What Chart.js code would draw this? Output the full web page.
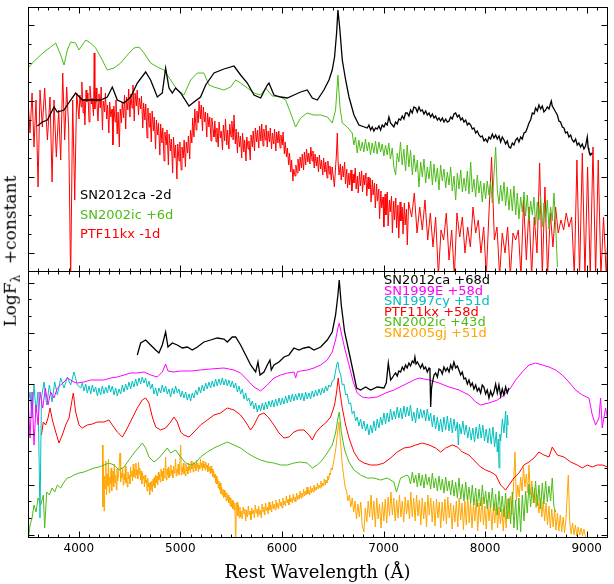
<!DOCTYPE html>
<html><head><meta charset="utf-8">
<script src="https://cdn.jsdelivr.net/npm/chart.js@4.4.0/dist/chart.umd.min.js"></script>
<style>
html,body{margin:0;padding:0;background:#fff;}
#wrap{position:relative;width:614px;height:584px;overflow:hidden;background:#fff;}
canvas{position:absolute;left:0;}
.lab{position:absolute;font-family:"DejaVu Sans",sans-serif;font-size:13px;line-height:13px;white-space:nowrap;}
#ytitle{position:absolute;font-family:"DejaVu Serif",serif;font-size:17px;line-height:20px;width:220px;text-align:center;left:-97px;top:238px;transform:rotate(-90deg);white-space:nowrap;color:#000;}
#ytitle sub{font-size:12px;}
</style></head><body>
<div id="wrap">
<canvas id="ctop" width="614" height="280" style="top:0"></canvas>
<canvas id="cbot" width="614" height="320" style="top:264px"></canvas>
<div id="ytitle">LogF<sub>λ</sub>&nbsp;&nbsp;+constant</div>
</div>
<script>
// ---------------- categories / labels ----------------
const xTicks = [4000, 5000, 6000, 7000, 8000, 9000];
const topNames = ['SN2012ca -2d', 'SN2002ic +6d', 'PTF11kx -1d'];
const botNames = ['SN2012ca +68d', 'SN1999E +58d', 'SN1997cy +51d', 'PTF11kx +58d', 'SN2002ic +43d', 'SN2005gj +51d'];

// ---------------- top panel series: [wavelength (Å), log flux + const] ----------------
const ca_m2 = [[3592,14.5],[3641,14.9],[3691,15.1],[3756,16.4],[3789,15.9],[3855,16.1],[3920,17.1],[3969,17.8],[4035,17.1],[4117,17.1],[4215,17.1],[4281,17.4],[4330,18.4],[4379,17.1],[4445,16.8],[4511,17.4],[4576,18.8],[4658,19.9],[4707,19.1],[4773,17.4],[4822,17.8],[4855,20.3],[4888,18.3],[4921,17.8],[4953,18.3],[5003,17.8],[5085,16.5],[5134,16.9],[5199,17.4],[5249,18.6],[5331,19.8],[5429,20.2],[5528,20.5],[5593,19.6],[5659,18.8],[5725,17.6],[5790,17.3],[5856,18.6],[5872,18.8],[5921,17.6],[5987,17.4],[6053,17.3],[6118,17.6],[6184,17.9],[6249,18.1],[6299,17.3],[6348,17.1],[6413,18.1],[6463,19.1],[6495,20.1],[6518,21.4],[6538,23.8],[6551,26.1],[6568,24.4],[6594,21.1],[6627,19.1],[6660,17.4],[6709,15.6],[6758,14.6],
[6840,14.3],[6856,14.6],[6873,14.1],[6889,14.4],[6905,14.0],[6922,14.3],[6938,14.2],[6955,14.5],[6971,14.1],[6987,14.6],[7004,14.4],[7020,14.8],[7036,14.6],[7053,15.4],[7069,14.8],[7086,14.6],[7102,14.4],[7118,14.9],[7135,14.7],[7151,15.2],[7168,15.1],[7184,15.5],[7201,15.2],[7217,15.8],[7233,15.8],[7250,15.5],[7266,16.1],[7283,15.8],[7299,16.4],[7317,16.3],[7332,15.9],[7349,16.4],[7365,16.0],[7382,16.1],[7398,15.7],[7415,16.0],[7431,15.6],[7448,15.8],[7464,15.4],[7481,15.7],[7497,15.3],[7513,15.5],[7530,15.1],[7546,15.3],[7562,15.0],[7579,15.3],[7595,14.9],[7612,15.2],[7628,14.9],[7645,15.0],[7661,15.4],[7677,15.2],[7694,15.7],[7710,15.8],[7727,15.4],[7743,15.6],[7760,15.1],[7776,15.3],[7792,14.9],[7809,15.1],[7825,14.6],[7841,14.8],[7858,14.6],[7874,14.2],[7890,14.3],[7907,13.8],[7923,14.0],[7940,13.6],[7956,13.4],[7972,13.5],[7989,13.0],[8005,13.2],[8022,12.9],[8038,13.4],[8054,13.2],[8071,13.7],[8087,13.3],[8104,13.6],[8120,13.2],[8137,13.5],[8153,12.9],[8169,13.4],[8186,13.1],[8202,12.7],[8218,13.0],[8235,12.4],[8251,12.3],[8268,12.8],[8284,12.6],[8301,13.1],[8317,13.3],[8333,12.9],[8350,13.4],[8366,13.2],[8383,13.8],[8399,13.9],[8415,14.3],[8432,14.8],[8448,15.1],[8465,15.8],[8481,15.7],[8497,16.3],[8514,16.0],[8530,16.6],[8547,16.2],[8563,16.5],[8579,15.9],[8596,16.1],[8612,16.4],[8629,16.2],[8645,16.8],[8652,17.0],[8661,16.5],[8678,16.2],[8694,15.9],[8711,15.6],[8727,15.0],[8743,14.9],[8760,14.4],[8776,14.3],[8792,13.8],[8809,13.9],[8825,13.4],[8842,13.6],[8858,13.1],[8874,12.9],[8891,13.2],[8907,12.6],[8923,12.8],[8940,12.4],[8956,12.7],[8973,12.2],[8989,12.5],[9006,13.4],[9015,12.3],[9022,12.0],[9039,11.6],[9055,11.8]];

const ic_p6 = [[3500,20.3],[3543,20.8],[3592,21.3],[3658,21.9],[3723,22.4],[3773,22.8],[3822,21.6],[3855,20.6],[3887,22.1],[3920,22.9],[3969,22.8],[4002,22.1],[4068,23.1],[4117,22.8],[4166,22.3],[4215,21.4],[4281,20.1],[4347,20.3],[4412,20.8],[4478,21.6],[4543,22.3],[4593,22.4],[4642,21.8],[4707,20.8],[4773,20.4],[4839,20.1],[4904,19.1],[4970,18.1],[5035,17.6],[5101,19.1],[5167,19.8],[5232,19.8],[5281,18.6],[5331,18.4],[5429,18.1],[5495,18.4],[5544,19.1],[5593,18.8],[5659,18.3],[5725,17.8],[5790,17.6],[5839,18.3],[5905,17.5],[5987,17.4],[6036,17.1],[6085,15.8],[6135,14.4],[6184,15.3],[6249,15.8],[6315,15.6],[6381,15.6],[6446,15.4],[6495,14.8],[6528,16.1],[6551,19.6],[6571,16.4],[6594,14.8],[6643,14.4],[6692,13.8],
[6708,12.6],[6724,13.4],[6741,11.8],[6757,13.1],[6773,12.0],[6791,12.9],[6806,11.9],[6822,13.2],[6840,12.0],[6856,12.9],[6872,11.6],[6888,12.8],[6905,11.8],[6921,13.0],[6937,11.7],[6955,12.9],[6971,11.9],[6987,12.7],[7003,11.5],[7020,12.6],[7036,11.6],[7052,12.8],[7068,11.2],[7086,12.3],[7102,10.4],[7119,9.6],[7135,11.8],[7151,10.9],[7167,12.9],[7184,10.6],[7200,12.2],[7217,10.0],[7233,12.6],[7250,10.4],[7266,12.1],[7284,9.6],[7300,11.6],[7317,9.9],[7333,11.1],[7349,8.4],[7366,10.9],[7382,9.4],[7398,11.2],[7415,8.8],[7431,10.4],[7448,9.2],[7464,11.0],[7481,8.6],[7497,10.7],[7513,8.9],[7530,10.3],[7546,8.1],[7562,10.6],[7579,9.0],[7595,10.2],[7612,8.3],[7628,9.9],[7645,8.6],[7661,10.4],[7677,8.0],[7694,9.5],[7710,7.1],[7727,9.8],[7743,8.2],[7760,10.1],[7776,7.9],[7792,9.3],[7809,8.0],[7825,10.0],[7841,7.7],[7858,10.9],[7874,7.9],[7890,9.2],[7907,7.4],[7923,9.6],[7940,7.8],[7956,9.0],[7972,6.9],[7989,8.8],[8005,7.2],[8021,9.0],[8038,7.6],[8054,8.9],[8071,6.8],[8087,9.6],[8104,12.4],[8120,8.1],[8137,6.7],[8153,8.6],[8169,7.0],[8186,8.9],[8202,6.5],[8218,8.4],[8235,6.1],[8251,8.2],[8268,6.0],[8284,8.5],[8301,5.6],[8317,7.8],[8333,5.2],[8350,7.4],[8366,5.9],[8383,7.9],[8399,5.5],[8415,7.6],[8432,5.0],[8448,7.0],[8465,5.6],[8481,7.4],[8497,4.6],[8514,6.9],[8530,5.1],[8547,7.5],[8563,4.4],[8579,6.8],[8596,4.9],[8612,7.1],[8629,4.2],[8645,6.4],[8661,5.0],[8678,7.8],[8694,4.6],[8712,0.4]];

const kx_m1 = [[3500,17.1],[3520,13.8],[3540,17.8],[3559,12.4],[3579,17.1],[3599,8.4],[3618,18.1],[3641,14.4],[3664,18.3],[3691,13.1],[3717,17.4],[3737,8.9],[3756,17.1],[3779,11.4],[3802,16.1],[3822,11.1],[3842,19.8],[3861,13.1],[3881,18.4],[3900,14.4],[3920,-1],[3940,17.1],[3960,7.1],[3979,17.8],
[4002,15.2],[4011,17.6],[4024,16.4],[4030,18.9],[4043,15.8],[4051,17.2],[4060,14.6],[4072,18.1],[4079,16.9],[4090,17.8],[4101,14.9],[4110,18.5],[4124,16.7],[4131,17.3],[4145,15.5],[4152,21.8],[4158,16.2],[4170,18.3],[4178,16.9],[4189,15.0],[4199,17.7],[4212,16.3],[4220,18.4],[4233,14.1],[4241,17.0],[4254,15.9],[4262,17.8],[4275,15.2],[4283,16.6],[4296,13.8],[4304,16.9],[4316,15.4],[4327,16.2],[4336,12.6],[4345,16.5],[4358,14.9],[4366,17.1],[4378,13.7],[4387,15.9],[4399,12.4],[4408,16.2],[4420,14.8],[4428,16.9],[4441,15.3],[4450,17.6],[4462,14.2],[4470,17.4],[4483,16.1],[4491,18.2],[4504,15.4],[4512,17.7],[4525,16.3],[4533,18.6],[4546,15.0],[4554,17.8],[4567,16.5],[4575,18.1],[4588,15.6],[4596,17.3],[4609,16.2],[4617,17.5],[4630,14.3],[4638,16.8],[4651,15.1],[4659,16.7],[4672,13.3],[4680,16.3],[4693,14.4],[4701,15.8],[4714,12.9],[4722,16.0],[4735,14.0],[4743,15.4],[4756,12.2],[4764,15.1],[4777,13.6],[4785,14.8],[4798,11.6],[4806,14.7],[4819,12.8],[4827,14.3],[4840,11.0],[4848,13.9],[4861,12.6],[4869,14.1],[4882,10.6],[4890,13.7],[4903,12.0],[4911,13.2],[4924,9.8],[4932,13.4],[4945,11.3],[4953,12.6],[4966,9.2],[4974,12.7],[4987,11.0],[4995,12.9],[5008,10.1],[5016,12.4],[5029,11.3],[5037,13.1],[5050,10.4],[5058,12.9],[5071,11.8],[5079,13.5],[5092,11.2],[5100,14.1],[5113,12.8],[5121,15.3],[5134,13.4],[5142,16.2],[5155,14.1],[5163,16.0],[5176,14.8],[5184,17.0],[5197,15.2],[5205,16.6],[5218,14.0],[5226,16.4],[5239,14.9],[5247,15.9],[5260,13.4],[5268,15.8],[5281,14.4],[5289,15.4],[5302,13.0],[5310,15.3],[5323,14.1],[5331,13.4],
[5339,15.0],[5352,12.9],[5360,14.3],[5373,12.4],[5381,14.9],[5394,13.3],[5402,14.0],[5415,12.1],[5423,14.6],[5436,13.0],[5444,15.2],[5457,12.6],[5465,14.1],[5478,12.2],[5486,14.7],[5499,13.4],[5507,15.0],[5520,13.1],[5528,15.6],[5541,12.7],[5549,14.2],[5562,11.8],[5570,13.9],[5583,12.4],[5591,13.5],[5604,11.3],[5612,13.8],[5625,11.9],[5633,13.1],[5646,11.0],[5654,13.4],[5667,12.2],[5675,13.0],[5688,11.1],[5696,13.6],[5709,12.4],[5717,14.0],[5730,12.0],[5738,14.3],[5751,12.9],[5759,14.1],[5772,12.3],[5780,14.5],[5793,13.0],[5801,14.7],[5814,12.5],[5822,14.2],[5835,13.1],[5843,14.6],[5856,12.4],[5864,14.0],[5877,12.9],[5885,14.3],[5898,12.2],[5906,13.8],[5919,12.7],[5927,14.2],[5940,12.0],[5948,13.9],[5961,12.8],[5969,14.0],[5982,12.3],[5990,13.6],[6003,12.6],[6011,13.9],[6024,11.7],[6032,12.9],[6045,11.4],[6053,12.3],[6066,10.6],[6074,11.8],[6087,9.9],[6095,11.1],[6108,9.0],[6116,10.2],[6129,9.5],[6137,10.6],[6150,9.8],[6158,11.2],[6171,10.0],[6179,11.4],[6192,10.3],[6200,11.7],[6213,10.1],[6221,11.9],[6234,10.6],[6242,12.2],[6255,10.9],[6263,11.8],[6276,10.7],[6284,12.4],[6297,11.0],[6305,12.0],[6318,10.3],[6326,11.7],[6339,10.5],[6347,11.4],[6360,9.9],[6368,11.6],[6381,10.2],[6389,11.1],[6402,9.6],[6410,11.3],[6423,9.9],[6431,10.9],[6444,9.3],[6452,11.0],[6465,9.7],[6473,10.5],[6486,9.1],[6494,10.4],[6507,9.3],[6516,8.4],[6527,10.2],[6536,11.6],[6545,13.8],[6553,10.9],[6562,9.6],[6575,10.7],[6583,9.1],[6596,10.5],[6604,9.4],[6617,10.9],[6625,8.7],[6638,10.2],[6646,8.3],[6659,9.8],[6667,8.6],[6680,10.1],[6688,8.0],[6701,9.7],[6709,8.8],[6722,10.3],[6730,8.2],[6743,9.5],[6751,7.8],[6764,9.9],[6772,8.5],[6785,10.0],[6793,7.9],[6806,9.6],[6814,8.6],[6827,9.8],[6835,7.5],[6848,9.4],[6856,8.2],[6869,9.3],[6877,6.9],[6890,9.1],[6898,7.6],[6911,8.8],[6919,6.3],[6932,8.7],[6940,7.0],[6953,8.2],[6961,5.2],[6974,8.0],[6982,6.3],[6995,7.4],[7003,4.4],[7016,7.7],[7024,5.6],[7037,7.9],[7045,4.5],[7058,7.1],[7066,5.9],[7079,7.5],[7087,3.8],[7100,7.0],[7108,5.1],[7121,7.3],[7129,4.3],[7142,6.6],[7150,3.3],[7163,6.9],[7171,5.0],[7184,6.4],[7192,3.7],[7205,6.8],[7213,4.6],[7226,6.2],[7234,2.6],[7247,6.9],
[7277,5.4],[7303,7.8],[7330,3.8],[7356,6.4],[7382,4.1],[7408,7.1],[7435,3.1],[7461,5.8],[7487,2.4],[7513,5.4],[7540,-0.5],[7566,4.1],[7592,3.1],[7618,5.8],[7645,1.1],[7671,4.1],[7697,-0.5],[7723,5.8],[7750,3.4],[7776,5.4],[7802,1.8],[7828,4.4],[7855,2.4],[7881,6.4],[7907,3.8],[7933,5.1],[7959,1.8],[7986,4.4],[8012,-0.5],[8038,5.8],[8064,11.4],[8091,3.1],[8117,4.4],[8143,-0.5],[8169,3.8],[8196,1.8],[8222,4.4],[8248,-0.5],[8274,3.8],[8301,3.1],[8327,4.1],[8353,-0.5],[8379,7.1],[8406,1.1],[8432,6.4],[8458,-0.5],[8484,5.4],[8511,1.8],[8537,10.8],[8563,-0.5],[8589,8.4],[8615,-0.5],[8642,5.8],[8668,2.4],[8694,6.4],[8720,3.8],[8747,5.1],[8773,4.1],[8799,5.8],[8825,4.4],[8852,5.4],[8878,-0.5],[8904,11.1],[8930,-0.5],[8957,11.8],[8983,-0.5],[9009,10.4],[9035,-0.5],[9062,12.4],[9088,-0.5],[9114,11.1],[9140,-0.5],[9166,5.4],[9193,-0.5],[9219,6.4]];

// ---------------- bottom panel series ----------------
const ca_p68 = [[4576,18.2],[4609,19.4],[4658,19.7],[4707,19.2],[4757,18.7],[4789,18.4],[4822,19.2],[4855,20.5],[4878,19.0],[4921,19.4],[4970,19.2],[5019,18.9],[5068,19.0],[5117,18.7],[5167,19.0],[5232,19.5],[5298,19.7],[5363,19.9],[5429,19.8],[5462,19.5],[5511,20.0],[5544,20.0],[5593,19.2],[5643,18.2],[5692,17.2],[5741,16.5],[5764,17.5],[5784,16.2],[5823,16.5],[5856,17.2],[5882,17.7],[5895,16.7],[5921,17.2],[5971,17.5],[6020,18.0],[6069,18.2],[6118,18.9],[6167,18.7],[6217,18.9],[6266,19.0],[6315,18.7],[6381,19.0],[6446,19.7],[6495,20.5],[6528,22.2],[6551,24.2],[6564,25.7],[6584,23.2],[6617,20.5],[6660,18.5],[6702,16.5],[6735,14.9],[6774,14.7],[6824,15.0],[6873,14.7],[6938,15.0],[7004,14.9],[7027,15.4],[7047,17.4],
[7070,15.7],[7086,15.9],[7102,16.2],[7119,16.4],[7135,16.1],[7151,16.6],[7168,16.5],[7185,17.0],[7201,16.7],[7217,17.2],[7233,16.9],[7250,17.4],[7266,17.1],[7283,17.6],[7299,17.4],[7309,18.0],[7320,17.3],[7333,17.5],[7349,17.2],[7365,16.9],[7382,17.3],[7398,16.8],[7414,17.0],[7431,16.5],[7448,16.9],[7457,16.7],[7464,13.0],[7472,14.8],[7480,15.4],[7497,16.2],[7513,16.4],[7530,16.0],[7546,16.8],[7562,16.7],[7579,16.3],[7595,17.0],[7612,16.6],[7628,16.9],[7645,16.5],[7661,17.2],[7677,16.8],[7693,17.5],[7710,16.9],[7727,17.1],[7742,16.7],[7759,16.2],[7775,16.5],[7792,15.8],[7808,15.9],[7825,15.3],[7841,15.7],[7858,15.1],[7874,15.4],[7890,14.8],[7907,15.2],[7923,14.6],[7939,14.9],[7956,14.4],[7972,15.2],[7988,15.0],[8005,14.3],[8021,14.7],[8038,13.9],[8054,14.6],[8071,14.1],[8087,14.5],[8104,15.3],[8120,14.4],[8136,15.2],[8153,14.1],[8169,14.8],[8185,14.2],[8202,15.0],[8218,14.4],[8234,14.9]];

const sn99E = [[3500,13.9],[3520,9.9],[3540,14.5],[3559,9.2],[3579,13.2],[3599,11.2],[3618,14.5],[3645,12.9],[3671,14.9],[3697,13.2],[3723,14.5],[3756,13.9],[3789,14.9],[3822,15.2],[3855,15.5],[3887,15.9],[3920,15.7],[3953,15.5],[3986,15.4],[4051,15.5],[4117,15.7],[4183,15.7],[4248,15.7],[4314,15.9],[4379,16.0],[4445,16.2],[4511,16.4],[4576,16.4],[4642,16.5],[4707,16.2],[4773,16.0],[4822,16.5],[4855,17.3],[4878,16.6],[4937,16.5],[5003,16.6],[5101,16.6],[5199,16.7],[5298,16.8],[5429,16.9],[5528,16.7],[5593,16.4],[5659,15.7],[5725,15.0],[5790,14.6],[5856,15.2],[5921,15.9],[5987,16.2],[6053,16.4],[6118,16.5],[6135,15.9],[6151,16.5],[6184,16.6],[6249,16.7],[6315,16.9],[6381,17.2],[6446,17.7],[6495,18.5],[6528,19.7],[6551,20.9],[6564,21.4],[6584,20.4],[6617,18.9],[6660,17.2],[6702,15.5],[6741,14.4],[6791,14.0],[6856,13.9],[6938,14.0],[7020,14.4],[7102,14.7],[7201,15.2],[7299,15.7],[7349,15.9],[7448,15.7],[7546,15.4],[7645,15.0],[7743,14.7],[7841,14.2],[7907,13.5],[7956,13.2],[8038,13.4],[8120,13.7],[8186,14.2],[8251,14.9],[8301,15.7],[8366,16.5],[8432,17.2],[8497,17.4],[8563,17.2],[8629,17.0],[8694,16.7],[8760,16.2],[8825,15.5],[8891,14.7],[8957,14.2],[9022,13.9],[9055,12.2],[9088,11.2],[9121,11.9],[9137,13.9],[9153,10.9],[9186,12.9],[9212,11.5]];

const sn97cy = [[3500,13.2],[3520,14.5],[3540,11.9],[3559,15.2],[3579,12.5],[3599,14.5],[3618,1.9],[3632,13.9],[3658,15.5],[3684,13.2],[3710,15.2],[3737,13.5],[3763,15.5],[3789,14.2],[3822,15.9],[3855,14.9],[3887,16.0],[3920,15.2],[3953,16.5],[3986,15.2],[4019,14.9],
[4035,15.4],[4051,14.6],[4068,15.3],[4084,14.4],[4101,15.1],[4117,14.3],[4133,15.2],[4150,14.5],[4166,15.0],[4183,14.1],[4199,14.9],[4215,14.2],[4232,15.1],[4248,14.3],[4265,15.0],[4281,14.4],[4297,15.2],[4314,14.5],[4330,15.1],[4347,14.2],[4363,14.9],[4379,14.1],[4396,14.8],[4412,14.3],[4429,15.2],[4445,14.5],[4461,15.3],[4478,14.7],[4494,15.5],[4511,14.8],[4527,15.6],[4543,15.0],[4560,15.8],[4576,15.1],[4593,15.9],[4609,15.3],[4625,16.0],[4642,15.4],[4658,15.9],[4675,15.0],[4691,15.6],[4707,14.8],[4724,15.3],[4740,14.3],[4757,14.9],[4773,14.1],[4789,14.9],[4806,14.4],[4822,15.2],[4839,14.5],[4855,15.1],[4871,14.3],[4888,14.8],[4904,14.0],[4921,14.9],[4937,14.3],[4953,15.1],[4970,14.4],[4986,14.8],[5003,14.0],[5019,14.6],[5035,13.9],[5052,14.5],[5068,13.7],[5085,14.3],[5101,13.6],[5117,14.4],[5134,13.9],[5150,14.7],[5167,14.2],[5183,15.0],[5199,14.4],[5216,15.2],[5232,14.6],[5249,15.4],[5265,14.8],[5281,15.5],[5298,14.9],[5314,15.6],[5331,15.0],[5347,15.8],[5363,15.1],[5380,15.8],[5396,15.2],[5413,15.9],[5429,15.2],[5446,15.8],[5462,15.1],[5478,15.7],[5495,15.0],[5511,15.6],[5528,14.9],[5544,15.4],[5561,14.5],[5577,15.1],[5593,14.3],[5610,14.8],[5626,13.8],[5643,14.4],[5659,13.6],[5675,13.9],[5692,13.1],[5708,13.6],[5725,12.8],[5741,13.4],[5757,12.5],[5774,13.2],[5790,12.6],[5807,13.4],[5823,12.7],[5839,13.5],[5856,12.8],[5872,13.6],[5889,13.0],[5905,13.7],[5921,13.0],[5938,13.8],[5954,13.1],[5971,13.9],[5987,13.2],[6003,13.9],[6020,13.3],[6036,14.1],[6053,13.4],[6069,14.2],[6085,13.5],[6102,14.3],[6118,13.6],[6134,14.3],[6151,13.7],[6167,14.4],[6184,13.7],[6200,14.4],[6217,13.6],[6233,14.5],[6249,13.8],[6266,14.4],[6282,13.8],[6298,14.6],[6315,14.0],[6331,14.7],[6348,14.1],[6364,14.8],[6381,14.2],[6397,14.9],[6413,14.4],[6430,15.1],[6446,14.6],[6462,15.2],[6479,15.0],[6495,15.6],[6512,15.7],[6528,16.6],[6541,17.3],[6551,17.5],[6564,16.6],[6577,16.3],[6594,15.2],[6610,15.3],[6627,14.2],[6643,14.3],[6660,13.3],[6676,13.4],[6692,12.3],[6709,12.6],[6725,11.6],[6741,12.0],[6758,11.1],[6774,11.8],[6791,10.8],[6807,11.6],[6823,10.6],[6840,11.3],[6856,10.2],[6873,11.2],[6889,10.4],[6905,11.6],[6922,10.6],[6938,11.8],[6955,10.9],[6971,12.0],[6987,11.2],[7004,12.4],[7020,11.3],[7036,12.4],[7053,11.5],[7069,12.8],[7086,11.7],[7102,12.6],[7118,11.8],[7135,13.0],[7151,11.9],[7168,12.9],[7184,11.8],[7201,13.1],[7217,12.0],[7233,13.0],[7250,12.1],[7266,13.2],[7283,11.6],[7299,12.5],[7316,11.4],[7332,12.9],[7349,11.8],[7365,12.8],[7382,11.9],[7398,12.7],[7415,11.6],[7431,12.8],[7448,11.6],[7464,12.4],[7481,11.0],[7497,12.2],[7513,10.8],[7530,12.0],[7546,10.6],[7562,11.8],[7579,10.5],[7595,12.0],[7612,10.7],[7628,12.1],[7645,10.6],[7661,11.9],[7677,10.4],[7694,11.8],[7710,10.6],[7727,11.5],[7736,9.2],[7748,11.3],[7764,10.3],[7781,11.6],[7797,10.2],[7813,11.2],[7830,9.9],[7846,11.0],[7863,9.7],[7879,10.9],[7896,9.5],[7912,11.0],[7929,9.8],[7945,11.3],[7961,9.9],[7978,11.2],[7994,9.6],[8011,10.8],[8027,9.4],[8044,10.9],[8060,9.3],[8077,11.0],[8093,9.0],[8110,10.5],[8120,8.5],[8130,9.8],[8137,6.9],[8145,10.3],[8153,9.6],[8170,11.8],[8186,10.4],[8202,12.6],[8212,9.9],[8220,12.2],[8228,11.2]];

const kx_p58 = [[3632,10.2],[3651,11.5],[3674,11.2],[3697,11.9],[3717,12.9],[3740,11.7],[3773,10.5],[3805,9.4],[3838,10.2],[3871,11.2],[3904,11.9],[3937,13.9],[3946,14.4],[3969,12.5],[4002,11.2],[4035,10.9],[4084,11.2],[4133,11.3],[4183,11.5],[4248,11.5],[4297,11.7],[4330,11.2],[4379,10.5],[4429,10.0],[4478,10.9],[4527,11.9],[4576,12.9],[4625,13.7],[4658,13.9],[4691,13.4],[4724,12.0],[4757,11.0],[4806,10.7],[4855,10.9],[4904,11.5],[4937,12.0],[4970,11.5],[5003,10.5],[5035,10.2],[5085,10.0],[5134,10.5],[5199,11.2],[5265,11.7],[5331,12.2],[5396,12.4],[5462,12.9],[5528,12.7],[5593,12.2],[5643,11.5],[5692,10.7],[5725,11.2],[5774,12.2],[5823,12.4],[5872,11.9],[5921,11.2],[5971,10.4],[6020,9.9],[6069,10.0],[6118,10.5],[6167,10.7],[6217,10.7],[6266,10.2],[6299,9.7],[6331,10.4],[6381,11.0],[6430,11.4],[6479,12.0],[6518,13.2],[6538,14.5],[6554,15.9],[6571,14.5],[6594,12.9],[6627,11.2],[6660,9.9],[6709,8.5],[6758,7.7],[6807,7.4],[6873,7.2],[6938,7.2],[7004,7.4],[7069,7.9],[7135,8.5],[7201,8.9],[7266,9.0],[7317,9.2],[7382,9.4],[7448,9.2],[7513,8.9],[7563,8.5],[7612,8.9],[7677,9.2],[7727,9.0],[7776,8.5],[7841,8.2],[7907,7.5],[7956,7.0],[8005,6.7],[8055,6.5],[8104,6.2],[8153,5.2],[8202,4.7],[8235,5.2],[8284,5.9],[8333,6.4],[8383,7.2],[8432,7.5],[8481,7.9],[8530,8.5],[8579,8.2],[8629,8.0],[8661,9.0],[8711,8.2],[8776,8.0],[8842,7.5],[8907,7.2],[8957,6.9],[9006,7.2],[9055,7.0],[9104,7.2],[9153,7.2],[9212,7.0]];

const ic_p43 = [[3500,-0.5],[3520,1.2],[3540,1.9],[3559,3.2],[3579,2.5],[3599,3.9],[3625,3.2],[3651,4.2],[3664,0.9],[3684,4.5],[3710,4.2],[3737,4.9],[3763,4.5],[3789,5.2],[3822,4.9],[3855,5.5],[3887,5.9],[3920,6.0],[3953,6.2],[4002,6.4],[4051,6.5],[4101,6.7],[4150,6.9],[4199,7.0],[4248,7.2],[4297,7.4],[4347,7.2],[4396,6.7],[4445,7.0],[4494,7.7],[4543,8.4],[4593,9.0],[4625,9.4],[4658,8.9],[4691,8.0],[4740,7.5],[4789,7.9],[4839,8.5],[4871,8.9],[4904,8.4],[4953,8.7],[5003,8.0],[5052,7.4],[5101,7.2],[5150,7.4],[5199,8.0],[5265,8.5],[5331,8.9],[5396,9.2],[5462,9.5],[5528,9.2],[5593,8.9],[5659,8.4],[5725,8.0],[5790,7.7],[5856,7.5],[5921,7.4],[5987,7.2],[6053,7.2],[6118,7.4],[6184,7.5],[6249,7.4],[6299,6.9],[6348,7.2],[6397,7.7],[6446,8.4],[6495,9.2],[6528,10.4],[6551,11.9],[6564,12.5],[6584,10.5],[6617,8.7],[6660,7.5],[6709,6.7],[6774,6.2],[6840,5.9],[6905,5.9],[6971,5.7],[7036,5.9],[7102,5.5],[7128,4.5],[7168,5.9],[7233,6.2],
[7250,6.0],[7266,5.3],[7284,6.5],[7300,5.4],[7317,6.2],[7333,5.0],[7349,6.4],[7366,5.1],[7382,6.2],[7398,4.9],[7415,6.3],[7431,5.2],[7448,6.0],[7464,4.8],[7481,6.4],[7497,4.9],[7513,5.9],[7530,4.6],[7546,6.1],[7562,4.7],[7579,5.8],[7595,4.4],[7612,6.0],[7628,4.6],[7645,5.6],[7661,4.2],[7677,5.7],[7694,4.1],[7710,5.5],[7727,3.9],[7743,5.9],[7760,3.8],[7776,5.3],[7792,3.6],[7809,5.5],[7825,3.7],[7841,5.0],[7858,3.4],[7874,5.2],[7890,3.2],[7907,4.9],[7923,3.0],[7940,4.8],[7956,3.1],[7973,5.2],[7989,3.3],[8005,4.6],[8021,2.8],[8038,4.5],[8054,2.9],[8071,4.9],[8087,2.6],[8104,4.3],[8120,2.2],[8137,4.6],[8153,2.5],[8169,4.1],[8186,2.0],[8202,4.4],[8218,1.8],[8235,3.9],[8251,1.3],[8268,4.5],[8284,0.9],[8301,3.7],[8317,0.7],[8333,3.9],[8350,0.5],[8366,4.2],[8383,1.6],[8399,4.6],[8415,2.4],[8432,5.3],[8448,3.0],[8465,5.0],[8481,3.4],[8497,5.6],[8514,3.1],[8530,5.2],[8547,2.8],[8563,5.4],[8579,3.3],[8596,5.6],[8612,3.5],[8629,5.1],[8645,3.6],[8661,5.9],[8678,3.0],[8694,2.5]];

const gj_p51 = [[4232,9.2],[4238,3.0],[4243,7.4],[4249,2.6],[4254,6.1],[4261,4.8],[4266,7.6],[4273,4.2],[4279,6.3],[4286,5.1],[4292,7.8],[4299,4.4],[4305,6.0],[4311,5.3],[4318,6.9],[4324,4.6],[4331,5.8],[4337,6.6],[4344,5.0],[4350,7.3],[4357,5.4],[4363,6.2],[4370,4.7],[4376,6.8],[4383,5.6],[4389,6.0],[4396,7.0],[4406,8.4],[4412,5.5],[4419,6.4],[4425,5.9],[4432,6.9],[4438,5.2],[4445,6.3],[4451,5.7],[4458,7.1],[4464,5.4],[4471,6.0],[4477,5.0],[4484,6.5],[4490,5.8],[4497,6.2],[4503,5.3],[4510,7.0],[4516,6.1],[4523,6.6],[4529,5.6],[4536,7.3],[4542,6.0],[4549,6.8],[4555,5.9],[4562,7.4],[4568,6.2],[4575,6.7],[4581,5.8],[4588,7.5],[4594,6.3],[4601,6.9],[4607,5.7],[4614,6.6],[4620,5.3],[4627,6.4],[4633,5.8],[4640,6.1],[4646,5.0],[4653,6.2],[4659,5.4],[4666,5.7],[4672,4.6],[4679,5.9],[4685,5.0],[4692,5.4],[4698,4.2],[4705,5.5],[4711,4.7],[4718,5.6],[4724,4.5],[4731,5.8],[4737,5.1],[4744,6.0],[4750,4.9],[4757,6.2],[4763,5.4],[4770,6.1],[4776,5.2],[4783,6.5],[4789,5.7],[4796,6.3],[4802,5.5],[4809,6.8],[4815,6.0],[4822,6.6],[4828,5.6],[4835,6.9],[4841,5.9],[4848,6.4],[4855,8.0],[4861,5.7],[4868,6.8],[4874,6.2],[4881,7.0],[4887,5.9],[4894,6.6],[4900,6.1],[4907,7.2],[4913,6.3],[4920,6.7],[4926,5.9],[4933,7.1],[4939,6.4],[4946,6.9],[4953,7.8],[4959,6.1],[4966,6.8],[4972,6.4],[4979,7.3],[4985,6.2],[4992,6.9],[5003,9.2],[5009,6.2],[5016,7.0],[5022,6.5],[5029,7.4],[5035,6.3],[5042,6.8],[5048,6.1],[5055,7.3],[5061,6.6],[5068,7.0],[5074,6.3],[5081,7.4],[5087,6.7],[5094,7.1],[5100,6.4],[5107,7.6],[5113,6.8],[5120,7.2],[5126,6.5],[5133,7.5],[5139,6.9],[5146,7.3],[5152,6.6],[5159,7.7],[5165,6.9],[5172,7.4],[5178,6.5],[5185,7.2],[5191,6.8],[5198,7.8],[5204,7.0],[5211,7.4],[5217,6.6],[5224,7.6],[5230,6.9],[5237,7.3],[5243,6.7],[5250,7.5],[5256,6.9],[5263,7.2],[5269,6.5],[5276,7.4],[5282,6.6],[5289,7.0],[5295,6.3],[5302,7.1],[5308,6.4],[5315,6.8],[5321,6.0],[5328,6.6],[5334,5.9],[5341,6.3],[5347,5.4],[5354,6.1],[5360,5.3],[5367,5.8],[5373,4.9],[5380,5.6],[5386,4.7],[5393,5.4],[5399,4.3],[5406,5.0],[5412,4.2],[5419,4.8],[5425,3.9],[5432,4.7],[5438,4.0],[5445,4.5],[5451,3.6],[5458,4.4],[5464,3.7],[5471,4.2],[5477,3.4],[5484,4.0],[5490,3.1],[5497,3.9],[5503,3.0],[5510,3.7],[5516,2.8],[5523,3.6],[5529,2.7],[5537,3.4],[5544,-1],[5551,2.8],[5558,3.5],[5565,2.1],[5572,3.2],[5579,1.9],[5586,3.0],[5593,2.0],
[5601,2.6],[5609,1.8],[5618,3.0],[5627,2.3],[5635,2.8],[5644,1.6],[5652,2.7],[5661,2.0],[5669,3.1],[5678,2.2],[5686,2.6],[5695,1.7],[5703,2.9],[5712,2.3],[5720,2.7],[5729,1.9],[5737,3.2],[5746,2.4],[5754,2.8],[5763,2.0],[5771,3.1],[5780,2.2],[5788,2.7],[5797,1.9],[5805,3.3],[5814,2.5],[5822,3.0],[5831,2.2],[5839,3.4],[5848,2.6],[5856,3.0],[5865,2.3],[5873,3.5],[5882,2.7],[5890,3.2],[5899,2.5],[5907,3.6],[5916,2.8],[5924,3.3],[5933,2.7],[5941,3.7],[5950,2.9],[5958,3.4],[5967,2.8],[5975,3.8],[5984,3.1],[5992,3.5],[6001,2.9],[6009,3.9],[6018,3.2],[6026,3.6],[6035,3.1],[6043,4.1],[6052,3.4],[6060,3.8],[6069,3.2],[6077,4.2],[6086,3.5],[6094,3.9],[6103,3.4],[6111,4.3],[6120,3.6],[6128,4.0],[6137,3.5],[6145,4.4],[6154,3.7],[6162,4.2],[6171,3.8],[6179,4.6],[6188,3.9],[6196,4.4],[6205,4.0],[6213,4.8],[6222,4.1],[6230,4.6],[6239,4.2],[6247,5.0],[6256,4.3],[6264,4.7],[6273,4.2],[6281,5.1],[6290,4.4],[6298,4.9],[6307,4.5],[6315,5.2],[6324,4.6],[6332,5.0],[6341,4.7],[6349,5.4],[6358,4.8],[6366,5.2],[6375,4.9],[6383,5.6],[6392,5.0],[6400,5.4],[6409,5.1],[6417,5.8],[6426,5.2],[6434,5.7],[6443,5.4],[6451,6.1],[6460,5.7],[6468,6.4],[6477,6.2],[6485,6.9],[6494,6.7],[6505,7.3],[6520,8.2],[6531,8.9],[6548,10.5],[6561,11.5],[6572,10.0],[6584,8.6],[6594,7.2],[6608,6.1],[6622,5.0],[6636,4.6],[6650,3.6],[6664,4.2],[6678,3.0],[6692,3.9],[6706,2.5],[6720,3.6],[6734,1.8],[6748,3.3],[6762,2.0],[6776,3.5],[6790,1.2],[6807,0.5],[6821,2.9],[6835,1.5],[6849,3.6],[6863,2.0],[6877,4.2],[6891,1.7],[6905,3.6],[6919,1.0],[6933,3.9],[6947,1.8],[6961,3.3],[6975,0.9],[6989,3.5],[7003,1.6],[7017,3.8],[7031,1.4],[7045,4.0],[7059,2.1],[7073,4.5],[7087,2.2],[7101,3.9],[7115,1.6],[7129,3.7],[7143,1.9],[7157,4.2],[7171,2.0],[7185,3.6],[7199,1.5],[7213,4.0],[7227,2.3],[7241,3.7],[7255,1.8],[7269,4.5],[7283,2.0],[7297,3.9],[7311,1.6],[7325,4.2],[7339,2.1],[7353,3.7],[7367,1.2],[7381,3.9],[7395,1.8],[7409,3.5],[7423,1.0],[7437,4.2],[7451,2.2],[7465,3.9],[7479,1.5],[7493,3.6],[7507,1.1],[7521,3.8],[7535,1.9],[7549,3.5],[7563,0.9],[7577,3.5],[7591,1.6],[7605,3.8],[7619,1.3],[7633,4.0],[7647,1.9],[7661,3.4],[7675,0.8],[7689,3.2],[7703,1.5],[7717,3.6],[7731,1.0],[7745,3.9],[7759,1.7],[7773,3.4],[7787,0.7],[7801,3.6],[7815,1.2],[7829,4.2],[7843,1.4],[7857,3.5],[7871,0.9],[7885,3.3],[7899,1.6],[7913,3.8],[7927,0.6],[7941,3.4],[7955,1.5],[7969,4.0],[7983,1.2],[7997,3.1],[8011,0.8],[8025,3.7],[8039,1.6],[8053,3.3],[8067,0.7],[8081,3.0],[8095,1.4],[8109,3.4],[8123,0.9],[8137,3.0],[8151,1.3],[8165,2.8],[8179,0.6],[8193,3.1],[8207,0.9],[8221,3.8],[8235,1.8],[8249,4.1],[8263,2.2],[8277,4.6],[8294,8.5],[8308,3.6],[8322,5.2],[8336,4.0],[8350,6.0],[8364,4.6],[8378,7.0],[8392,5.0],[8406,6.3],[8420,4.4],[8432,7.2],[8446,4.2],[8460,5.6],[8474,3.4],[8488,4.9],[8502,2.9],[8516,4.2],[8530,2.4],[8544,3.9],[8558,2.0],[8572,3.6],[8586,1.6],[8600,3.4],[8614,1.2],[8628,3.1],[8642,0.9],[8656,2.8],[8670,1.0],[8684,2.7],[8698,0.7],[8712,2.4],[8726,0.6],[8740,2.2],[8754,0.5],[8768,2.0],[8782,0.4],[8796,1.8],[8819,6.2],[8833,1.5],[8847,0.3],[8861,1.4],[8875,0.2],[8889,1.2],[8903,0.1],[8917,1.0],[8931,0.2],[8945,0.9],[8959,0.1],[8973,0.8],[8989,0.0],[9006,-0.5]];

// ---------------- build chart data from the arrays ----------------
const pts = s => s.map(p => ({x: p[0], y: p[1]}));
const ds = (data, color, width) => ({data: data, borderColor: color, backgroundColor: color, borderWidth: width, pointRadius: 0, tension: 0, fill: false});

const topColors = ['#000000', '#4cbb17', '#ff0000'];
const botColors = ['#000000', '#ff00ff', '#00bfbf', '#ff0000', '#4cbb17', '#ffa500'];

const topSeries = [ca_m2, ic_p6, kx_m1].map(pts);
const botSeries = [ca_p68, sn99E, sn97cy, kx_p58, ic_p43, gj_p51].map(pts);

// frame + inward ticks, placed through the chart's own scales
const framePlugin = {
  id: 'frame',
  afterDraw(chart, args, o) {
    const ctx = chart.ctx, a = chart.chartArea, xs = chart.scales.x, ys = chart.scales.y;
    const L = a.left + 0.5, R = a.right + 0.5, T = a.top + 0.5, B = a.bottom + 0.5;
    ctx.save();
    ctx.strokeStyle = '#000'; ctx.lineWidth = 1;
    ctx.beginPath();
    for (let v = 3600; v <= 9100; v += 100) {
      const p = Math.round(xs.getPixelForValue(v)) + 0.5;
      const len = v % 1000 === 0 ? 6 : 3;
      ctx.moveTo(p, B); ctx.lineTo(p, B - len);
      ctx.moveTo(p, T); ctx.lineTo(p, T + len);
    }
    for (let k = 0; ; k++) {
      const v = o.yStart + k * o.yStep;
      if (v > ys.max) break;
      const p = Math.round(ys.getPixelForValue(v)) + 0.5;
      const len = k % o.majorEvery === 0 ? 6 : 3;
      ctx.moveTo(L, p); ctx.lineTo(L + len, p);
      ctx.moveTo(R, p); ctx.lineTo(R - len, p);
    }
    ctx.stroke();
    ctx.strokeRect(L, T, R - L, B - T);
    ctx.restore();
  }
};

function baseOptions(ymax, pad, tickCfg, xAxis) {
  return {
    responsive: false, animation: false, devicePixelRatio: 1,
    layout: {padding: pad},
    plugins: {legend: {display: false}, tooltip: {enabled: false}, frame: tickCfg},
    scales: {
      x: xAxis,
      y: {type: 'linear', min: 0, max: ymax, display: false}
    }
  };
}

new Chart(document.getElementById('ctop'), {
  type: 'line',
  data: {datasets: topSeries.map((d, i) => ds(d, topColors[i], i === 0 ? 1.3 : 1))},
  options: baseOptions(26.4, {top: 7, left: 28, right: 7, bottom: 9},
    {yStart: 1.8, yStep: 1.9, majorEvery: 4},
    {type: 'linear', min: 3500, max: 9200, display: false}),
  plugins: [framePlugin]
});

new Chart(document.getElementById('cbot'), {
  type: 'line',
  data: {datasets: botSeries.map((d, i) => ds(d, botColors[i], i === 0 ? 1.3 : 1))},
  options: baseOptions(26.6, {top: 7, left: 28, right: 7, bottom: 0},
    {yStart: 0.2, yStep: 1.683, majorEvery: 3},
    {type: 'linear', min: 3500, max: 9200, display: true,
     grid: {display: false, drawTicks: false}, border: {display: false},
     afterBuildTicks: s => { s.ticks = xTicks.map(v => ({value: v})); },
     afterFit: s => { s.height = 47; },
     ticks: {color: '#000', font: {family: 'DejaVu Sans', size: 12}, padding: 5, maxRotation: 0, autoSkip: false, callback: v => String(v)},
     title: {display: true, text: 'Rest Wavelength (Å)', color: '#000', font: {family: 'DejaVu Serif', size: 18}, padding: {top: 8, bottom: 0}}
    }),
  plugins: [framePlugin]
});

// annotation labels
const wrap = document.getElementById('wrap');
function addLabels(names, colors, left, tops) {
  names.forEach((n, i) => {
    const d = document.createElement('div');
    d.className = 'lab';
    d.textContent = n;
    d.style.color = colors[i];
    d.style.left = left + 'px';
    d.style.top = tops[i] + 'px';
    wrap.appendChild(d);
  });
}
addLabels(topNames, topColors, 80, [188, 208, 227]);
addLabels(botNames, botColors, 384, [273, 284, 294, 305, 315, 326]);
</script>
</body></html>
